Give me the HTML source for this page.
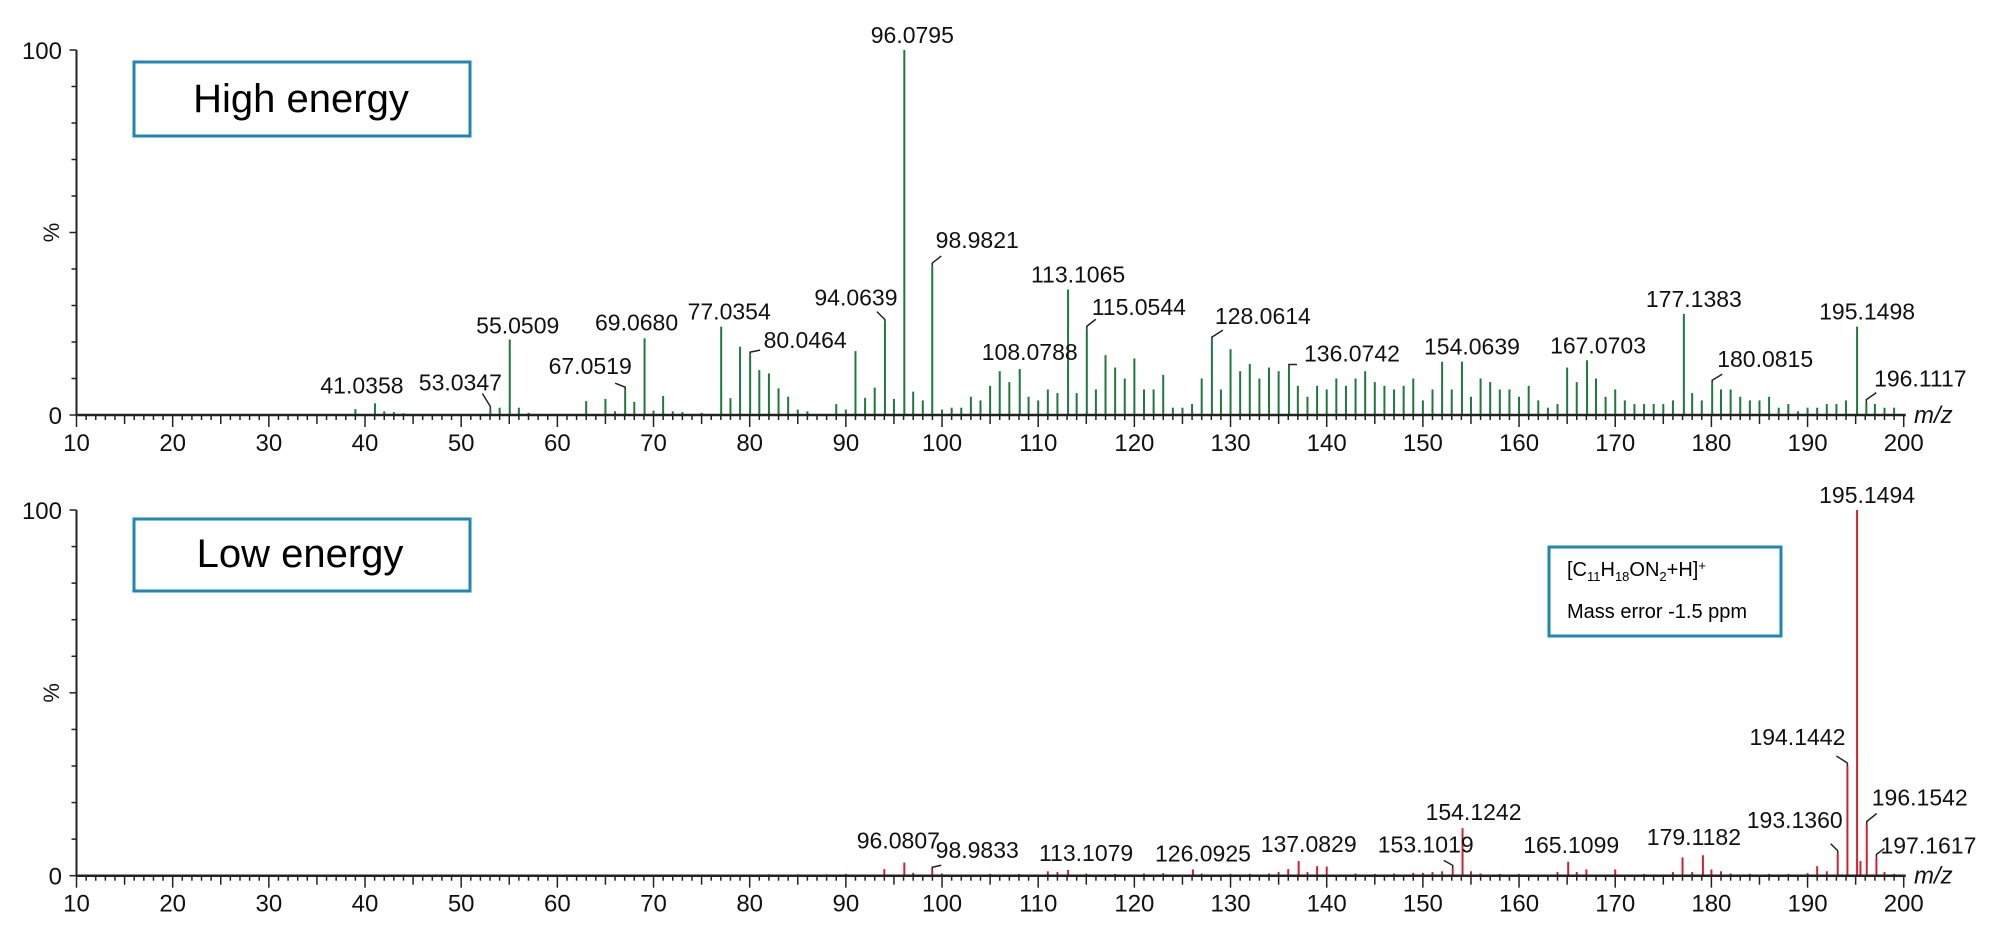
<!DOCTYPE html>
<html><head><meta charset="utf-8"><style>
html,body{margin:0;padding:0;background:#fff;}
svg{display:block;font-family:"Liberation Sans",Arial,sans-serif;}
</style></head><body>
<svg id="chart" width="2000" height="943" viewBox="0 0 2000 943" xmlns="http://www.w3.org/2000/svg">
<g id="top"></g>
<g id="bot"></g>
<rect x="134" y="62" width="336" height="74" fill="#fff" stroke="#1f86b5" stroke-width="3"/>
<text x="301" y="112" font-size="40" text-anchor="middle">High energy</text>
<rect x="134" y="519" width="336" height="72" fill="#fff" stroke="#1f86b5" stroke-width="3"/>
<text x="300" y="567" font-size="40" text-anchor="middle">Low energy</text>
<rect x="1549" y="547" width="232" height="89" fill="#fff" stroke="#1f86b5" stroke-width="3"/>
<text x="1567" y="576" font-size="20">[C<tspan font-size="13" dy="5">11</tspan><tspan dy="-5">H</tspan><tspan font-size="13" dy="5">18</tspan><tspan dy="-5">ON</tspan><tspan font-size="13" dy="5">2</tspan><tspan dy="-5">+H]</tspan><tspan font-size="13" dy="-6">+</tspan></text>
<text x="1567" y="618" font-size="20">Mass error -1.5 ppm</text>
</svg>
<script>
// High energy spectrum
const topMz = [39,41.0358,42,43,44,53.0347,54,55.0509,56,57,63,65,66,67.0519,68,69.0680,70,71,72,73,75,77.0354,78,79,80.0464,81,82,83,84,85,86,89,90,91,92,93,94.0639,95,96.0795,97,98,98.9821,100,101,102,103,104,105,106,107,108.0788,109,110,111,112,113.1065,114,115.0544,116,117,118,119,120,121,122,123,124,125,126,127,128.0614,129,130,131,132,133,134,135,136.0742,137,138,139,140,141,142,143,144,145,146,147,148,149,150,151,152,153,154.0639,155,156,157,158,159,160,161,162,163,164,165,166,167.0703,168,169,170,171,172,173,174,175,176,177.1383,178,179,180.0815,181,182,183,184,185,186,187,188,189,190,191,192,193,194,195.1498,196.1117,197,198,199];
const topInt = [1.6,3.2,1,0.8,0.5,1.5,2,20.7,2,0.6,3.8,4.4,1,6.8,3.6,21,1.2,5.2,1,0.8,0.6,24.2,4.6,18.7,16.4,12.3,11.4,7.3,5,1.5,1,3,1.5,17.5,4.7,7.5,25.3,4.4,100,6.4,4,40.8,1.5,2,2,5,4,8,12,9,12.6,5,4,7,6,34.4,6,23.5,7,16.4,13,10,15.5,7,7,11,2,2,3,10,20.5,7,18,12,14,10,13,12,13,8,5,8,7,10,8,10,12,9,8,7,8,10,4,7,14.6,7,14.6,5,10,9,7,7,5,8,4,2,3,13,9,15,10,5,7,4,3,3,3,3,4,27.7,6,4,8.7,7,7,5,4,4,5,2,3,1,2,2,3,3,4,24.2,3.4,3,2,2];
const topLabels = ["41.0358","53.0347","55.0509","67.0519","69.0680","77.0354","80.0464","94.0639","96.0795","98.9821","108.0788","113.1065","115.0544","128.0614","136.0742","154.0639","167.0703","177.1383","180.0815","195.1498","196.1117"];
const topLabelMz = [41.0358,53.0347,55.0509,67.0519,69.0680,77.0354,80.0464,94.0639,96.0795,98.9821,108.0788,113.1065,115.0544,128.0614,136.0742,154.0639,167.0703,177.1383,180.0815,195.1498,196.1117];
// label offsets (px) relative to peak top: [dx, dy, leaderDx, leaderDy]
const topLabelOff = [[-13,-10,0,0],[-30,-19,-8,-16],[8,-6,0,0],[-35,-16,-10,-7],[-8,-8,0,0],[8,-7,0,0],[55,-7,10,-5],[-29,-17,-8,-11],[8,-7,0,0],[45,-18,9,-10],[10,-9,0,0],[10,-7,0,0],[52,-14,9,-10],[51,-16,11,-10],[63,-6,8,-3],[10,-7,0,0],[11,-7,0,0],[10,-7,0,0],[53,-16,10,-9],[10,-7,0,0],[54,-16,10,-10]];

// Low energy spectrum
const botMz = [82,85,88,90,94,96.0807,97,98.9833,100,105,108,111,112,113.1079,115,118,121,123,126.0925,127,130,132,134,135,136,137.0829,138,139,140,143,145,147,149,150,151,152,153.1019,154.1242,155,156,158,160,164,165.1099,166,167,170,173,176,177,178,179.1182,180,181,182,184,186,188,190,191,192,193.1360,194.1442,195.1494,195.5,196.1542,197.1617,198,199];
const botInt = [0.4,0.4,0.4,0.5,1.8,3.6,0.8,1.5,0.6,0.5,0.5,1.2,1,1.6,0.6,0.5,0.6,0.7,1.7,0.6,0.5,0.5,0.6,1,1.8,4,1,2.6,2.5,0.6,0.5,0.6,0.8,0.8,1,1.2,2,13,1.2,0.6,0.5,0.5,1,3.8,1,1.7,1.7,0.5,1,5,1,5.6,1.7,1.2,0.6,0.5,0.5,0.5,0.7,2.6,1.2,6,30,100,4,14,5,1,0.5];
const botLabels = ["96.0807","98.9833","113.1079","126.0925","137.0829","153.1019","154.1242","165.1099","179.1182","193.1360","194.1442","195.1494","196.1542","197.1617"];
const botLabelMz = [96.0807,98.9833,113.1079,126.0925,137.0829,153.1019,154.1242,165.1099,179.1182,193.1360,194.1442,195.1494,196.1542,197.1617];
const botLabelOff = [[-6,-14,0,0],[45,-12,9,-5],[18,-9,0,0],[10,-8,0,0],[10,-9,0,0],[-27,-16,-9,-8],[11,-8,0,0],[3,-9,0,0],[-9,-10,0,0],[-43,-26,-7,-10],[-50,-21,-11,-10],[10,-7,0,0],[53,-19,10,-11],[52,-4,8,-9]];

const xTicks = [10,20,30,40,50,60,70,80,90,100,110,120,130,140,150,160,170,180,190,200];
const NS = "http://www.w3.org/2000/svg";
const X0 = 76.5, XS = 9.617;
function xPos(v){ return X0 + (v - 10) * XS; }
function mk(tag, attrs, parent){
  const e = document.createElementNS(NS, tag);
  for (const k in attrs) e.setAttribute(k, attrs[k]);
  parent.appendChild(e);
  return e;
}
function panel(g, base, top, mz, ints, labels, labMz, labOff, color, pre){
  const yPos = v => base - (v / 100) * (base - top);
  // peaks
  for (let i = 0; i < mz.length; i++) {
    const l = mk('line', {x1: xPos(mz[i]), x2: xPos(mz[i]), y1: base, y2: yPos(ints[i]), stroke: color, 'stroke-width': 2}, g);
    
    
  }
  // axes
  const ya = mk('line', {x1: X0, x2: X0, y1: top, y2: base, stroke: '#222', 'stroke-width': 2}, g);
  
  
  const xa = mk('line', {x1: X0, x2: xPos(200) + 2, y1: base, y2: base, stroke: '#222', 'stroke-width': 2.5}, g);
  
  
  for (let p = 0; p <= 100; p += 10) {
    const t = mk('line', {x1: X0 - (p % 50 === 0 ? 7 : 5), x2: X0, y1: yPos(p), y2: yPos(p), stroke: '#222', 'stroke-width': 1.5}, g);
    
    
  }
  for (let v = 10; v <= 200; v++) {
    const len = v % 10 === 0 ? 12 : (v % 5 === 0 ? 9 : 5);
    const t = mk('line', {x1: xPos(v), x2: xPos(v), y1: base, y2: base + len, stroke: '#222', 'stroke-width': 1.5}, g);
    
    
  }
  xTicks.forEach(v => {
    const t = mk('text', {x: xPos(v), y: base + 36, 'font-size': 24, 'text-anchor': 'middle', fill: '#111'}, g);
    t.textContent = v;
    
    
  });
  const y100 = mk('text', {x: 62, y: top + 9, 'font-size': 24, 'text-anchor': 'end', fill: '#111'}, g);
  y100.textContent = '100';
  
  
  const y0 = mk('text', {x: 62, y: base + 9, 'font-size': 24, 'text-anchor': 'end', fill: '#111'}, g);
  y0.textContent = '0';
  
  
  const pct = mk('text', {x: 0, y: 0, 'font-size': 22, 'text-anchor': 'middle', fill: '#111', transform: 'translate(59,' + ((base + top) / 2) + ') rotate(-90)'}, g);
  pct.textContent = '%';
  
  
  const mzt = mk('text', {x: 1914, y: base + 8, 'font-size': 24, 'font-style': 'italic', fill: '#111'}, g);
  mzt.textContent = 'm/z';
  
  
  // labels
  for (let i = 0; i < labels.length; i++) {
    const idx = mz.indexOf(labMz[i]);
    const v = idx >= 0 ? ints[idx] : 0;
    const px = xPos(labMz[i]), py = yPos(v);
    const o = labOff[i];
    if (o[2] !== 0 || o[3] !== 0) {
      const ld = mk('polyline', {points: px + ',' + py + ' ' + px + ',' + (py - 3) + ' ' + (px + o[2]) + ',' + (py + o[3]), fill: 'none', stroke: '#222', 'stroke-width': 1.5}, g);
      
      
    }
    const t = mk('text', {x: px + o[0], y: py + o[1], 'font-size': 23, 'text-anchor': 'middle', fill: '#111'}, g);
    t.textContent = labels[i];
    
    
  }
}
panel(document.getElementById('top'), 415, 50, topMz, topInt, topLabels, topLabelMz, topLabelOff, '#1c7a3e', 'high');
panel(document.getElementById('bot'), 875.7, 510, botMz, botInt, botLabels, botLabelMz, botLabelOff, '#cc2233', 'low');
</script>
</body></html>
